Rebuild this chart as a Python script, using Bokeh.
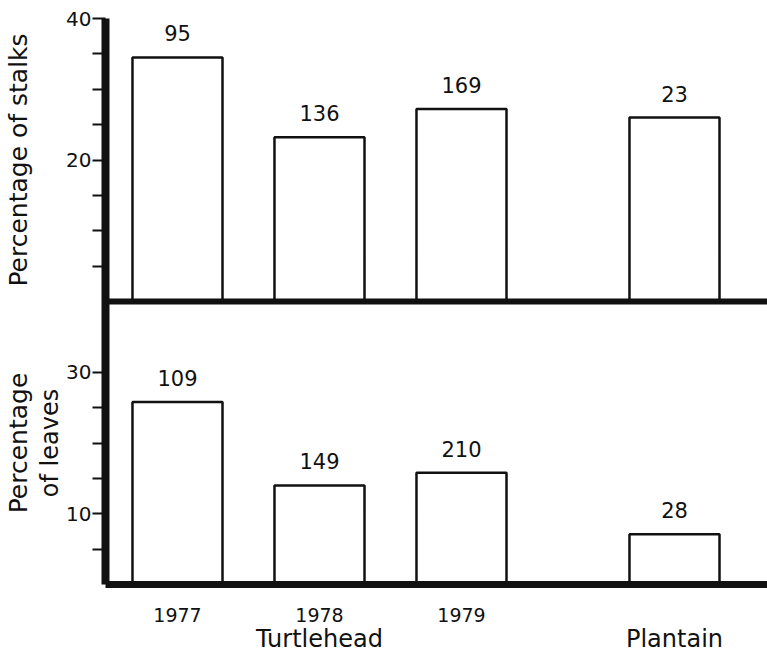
from bokeh.plotting import figure
from bokeh.models import FixedTicker, Span, Range1d, ColumnDataSource, LinearAxis
from bokeh.core.properties import value
from bokeh.embed import file_html
from bokeh.resources import INLINE

# ---- data ----
years = ["1977", "1978", "1979"]
groups = ["Turtlehead", "Plantain"]
bar_x = [1, 2, 3, 4.5]
group_x = [2, 4.5]
stalks_pct = [34.5, 23.2, 27.2, 26.0]
stalks_n = ["95", "136", "169", "23"]
leaves_pct = [25.8, 14.0, 15.8, 7.1]
leaves_n = ["109", "149", "210", "28"]
stalk_ticks = [5, 10, 15, 20, 25, 30, 35, 40]
stalk_tick_labels = {20: "20", 40: "40"}
leaf_ticks = [5, 10, 15, 20, 25, 30]
leaf_tick_labels = {10: "10", 30: "30"}
stalk_title = "Percentage of stalks"
leaf_title = ["Percentage", "of leaves"]
PANEL = 40  # each panel spans 0-40 %

FONT = "DejaVu Sans"
INK = "#111111"

p = figure(width=767, height=658, output_backend="svg", toolbar_location=None,
           x_range=Range1d(0.493, 5.155), y_range=Range1d(0, 2 * PANEL),
           min_border_left=105, min_border_right=0, min_border_top=18,
           min_border_bottom=74)
p.background_fill_color = "white"
p.border_fill_color = "white"
p.outline_line_color = None
p.grid.visible = False

# bars (top panel offset by PANEL)
top_src = ColumnDataSource(dict(x=bar_x, bottom=[PANEL] * 4,
                                top=[v + PANEL for v in stalks_pct], n=stalks_n))
bot_src = ColumnDataSource(dict(x=bar_x, bottom=[0] * 4, top=leaves_pct, n=leaves_n))
for src in (top_src, bot_src):
    p.vbar(x="x", bottom="bottom", top="top", width=0.634, source=src,
           fill_color="white", line_color=INK, line_width=2.5)
    p.text(x="x", y="top", text="n", source=src, text_align="center",
           text_baseline="alphabetic", y_offset=-24, text_font=value(FONT),
           text_font_size="21px", text_color=INK)

# middle baseline
p.add_layout(Span(location=PANEL, dimension="width", line_color=INK, line_width=6))

# y axis with ticks
ticks = leaf_ticks + [t + PANEL for t in stalk_ticks]
overrides = {t: "" for t in ticks}
for k, v in leaf_tick_labels.items():
    overrides[k] = v
for k, v in stalk_tick_labels.items():
    overrides[k + PANEL] = v
yax = p.yaxis[0]
yax.ticker = FixedTicker(ticks=ticks)
yax.major_label_overrides = overrides
yax.minor_tick_line_color = None
yax.axis_line_width = 8
yax.axis_line_color = INK
yax.major_tick_line_width = 2
yax.major_tick_line_color = INK
yax.major_tick_out = 13
yax.major_tick_in = 0
yax.major_label_standoff = 1
yax.major_label_text_font = FONT
yax.major_label_text_font_size = "20px"
yax.major_label_text_color = INK


def title_axis(ticks_map, size):
    ax = LinearAxis(ticker=FixedTicker(ticks=list(ticks_map.keys())),
                    major_label_overrides=ticks_map,
                    axis_line_color=None, major_tick_line_color=None,
                    minor_tick_line_color=None, major_tick_out=0, major_tick_in=0,
                    major_label_standoff=0, major_label_orientation="parallel",
                    major_label_text_font=FONT, major_label_text_font_size=size,
                    major_label_text_color=INK)
    p.add_layout(ax, "left")
    return ax


# panel titles (centred on each panel)
title_axis({PANEL / 2: leaf_title[1]}, "24px")
title_axis({PANEL / 2: leaf_title[0], PANEL * 1.5: stalk_title}, "25px")

# x axis: years
xax = p.xaxis[0]
xax.ticker = FixedTicker(ticks=bar_x[:3])
xax.major_label_overrides = {bar_x[i]: years[i] for i in range(3)}
xax.axis_line_width = 7
xax.axis_line_color = INK
xax.major_tick_line_color = None
xax.minor_tick_line_color = None
xax.major_tick_out = 0
xax.major_label_standoff = 23
xax.major_label_text_font = FONT
xax.major_label_text_font_size = "19px"
xax.major_label_text_color = INK

# x axis: plant names
gax = LinearAxis(ticker=FixedTicker(ticks=group_x),
                 major_label_overrides={group_x[i]: groups[i] for i in range(2)},
                 axis_line_color=None, major_tick_line_color=None,
                 minor_tick_line_color=None, major_tick_out=0, major_tick_in=0,
                 major_label_standoff=0, major_label_text_font=FONT,
                 major_label_text_font_size="24px", major_label_text_color=INK)
p.add_layout(gax, "below")

open("out.html", "w").write(file_html(p, INLINE))
